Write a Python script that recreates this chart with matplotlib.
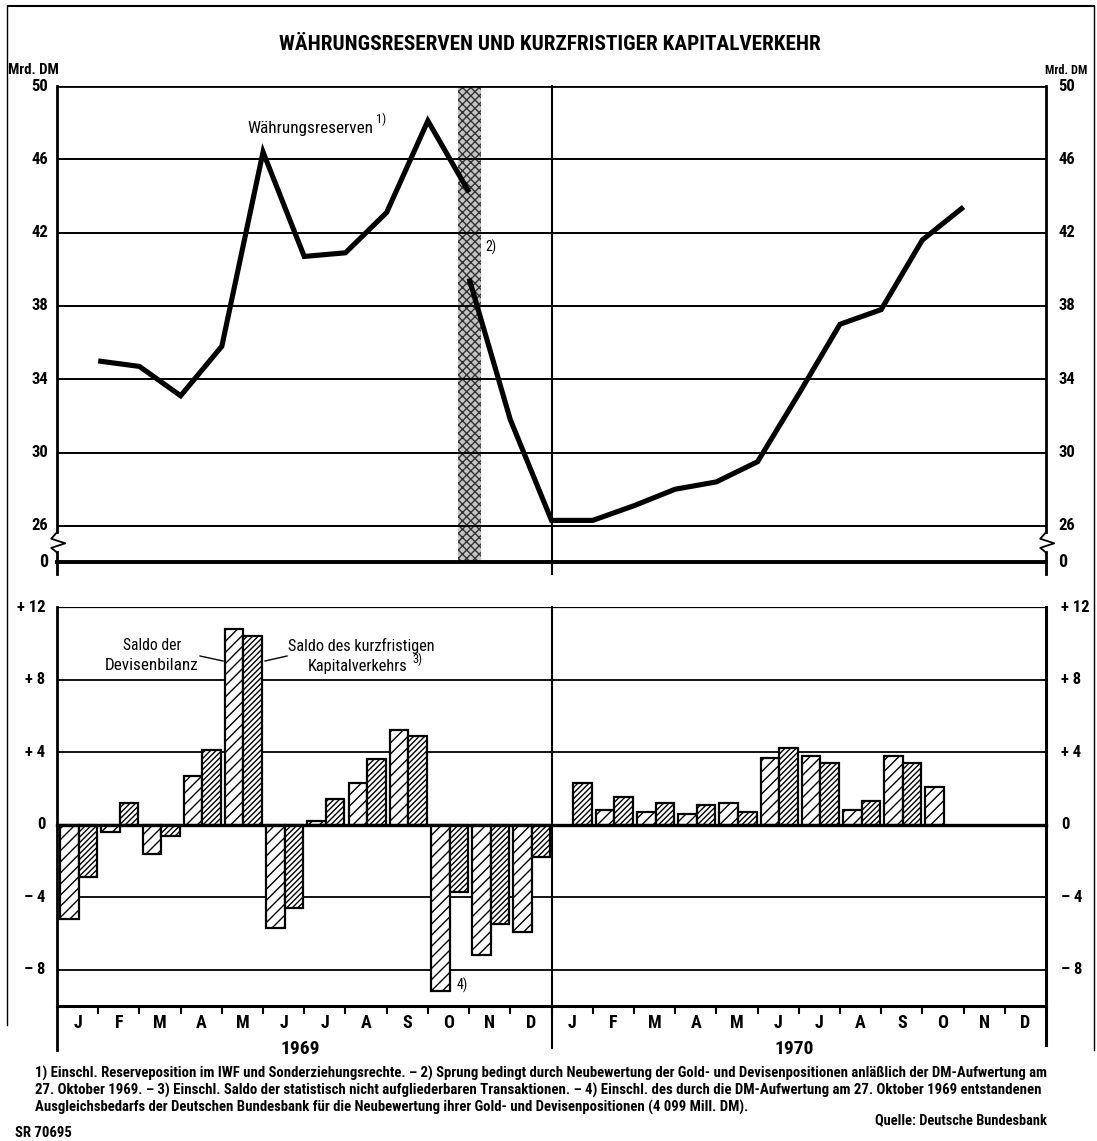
import numpy as np
import matplotlib.pyplot as plt
from matplotlib import font_manager as fm
from matplotlib.lines import Line2D

# ------------------------------------------------------------------------
MONTHS = ["J", "F", "M", "A", "M", "J", "J", "A", "S", "O", "N", "D"] * 2
YEARS = ["1969", "1970"]

# Währungsreserven (Mrd. DM), month-end values
# Jan 1969 .. Oct 1969 (before revaluation)
reserve_before = [35.0, 34.7, 33.1, 35.8, 46.4, 40.7, 40.9, 43.1, 48.1, 44.2]
# Oct 1969 (after revaluation) .. Oct 1970
reserve_after = [39.5, 31.8, 26.3, 26.3, 27.1, 28.0, 28.4, 29.5, 33.2,
                 37.0, 37.8, 41.6, 43.4]

# Saldo der Devisenbilanz / Saldo des kurzfristigen Kapitalverkehrs
devisen = [-5.2, -0.4, -1.6, 2.7, 10.8, -5.7, 0.2, 2.3, 5.2, -9.2, -7.2, -5.9,
           np.nan, 0.8, 0.7, 0.6, 1.2, 3.7, 3.8, 0.8, 3.8, 2.1, np.nan, np.nan]
kapital = [-2.9, 1.2, -0.6, 4.1, 10.4, -4.6, 1.4, 3.6, 4.9, -3.7, -5.5, -1.8,
           2.3, 1.5, 1.2, 1.1, 0.7, 4.2, 3.4, 1.3, 3.4, np.nan, np.nan, np.nan]

top_ticks = [26, 30, 34, 38, 42, 46, 50]
bot_ticks = [12, 8, 4, 0, -4, -8]
bot_labels = ["+ 12", "+ 8", "+ 4", "0", "– 4", "– 8"]

FOOTNOTES = [
    "1) Einschl. Reserveposition im IWF und Sonderziehungsrechte. – 2) Sprung bedingt durch Neubewertung der Gold- und Devisenpositionen anläßlich der DM-Aufwertung am",
    "27. Oktober 1969. – 3) Einschl. Saldo der statistisch nicht aufgliederbaren Transaktionen. – 4) Einschl. des durch die DM-Aufwertung am 27. Oktober 1969 entstandenen",
    "Ausgleichsbedarfs der Deutschen Bundesbank für die Neubewertung ihrer Gold- und Devisenpositionen (4 099 Mill. DM).",
]
# ------------------------------------------------------------------------


def pick_font():
    ents = fm.fontManager.ttflist
    names = {f.name for f in ents}
    for n in ["Liberation Sans Narrow", "Roboto Condensed",
              "DejaVu Sans Condensed", "Open Sans Condensed"]:
        if n in names:
            return n, "normal"
    if any(f.name == "DejaVu Sans" and "condensed" in str(f.stretch)
           for f in ents):
        return "DejaVu Sans", "condensed"
    return "Liberation Sans", "normal"


FAMILY, STRETCH = pick_font()
plt.rcParams["font.family"] = [FAMILY, "DejaVu Sans"]
plt.rcParams["font.stretch"] = STRETCH
plt.rcParams["font.weight"] = "bold"
plt.rcParams["hatch.linewidth"] = 1.0

W, H = 1097, 1141
fig = plt.figure(figsize=(W / 100, H / 100), dpi=100)
to_fit = []  # (text, target width in px)


def box(l, t, r, b):
    return [l / W, 1 - b / H, (r - l) / W, (b - t) / H]


def T(px, py, s, fit=None, **kw):
    kw.setdefault("ha", "center")
    kw.setdefault("va", "center")
    t = fig.text(px / W, 1 - py / H, s, **kw)
    if fit:
        to_fit.append((t, fit))
    return t


def L(xs, ys, **kw):
    fig.add_artist(Line2D([x / W for x in xs], [1 - y / H for y in ys],
                          transform=fig.transFigure, color="k", **kw))


ZERO = 24.03  # broken axis: position of the "0" line in the upper panel

# ---------------- upper panel: Währungsreserven --------------------------
ax1 = fig.add_axes(box(57, 86, 1046, 562))
ax1.set_xlim(0, 24)
ax1.set_ylim(ZERO, 50)
ax1.axis("off")

for v in top_ticks[:-1]:
    ax1.axhline(v, color="k", lw=1.4, zorder=2)
ax1.axhline(50, color="k", lw=2.0, zorder=2)
ax1.plot([0, 24], [ZERO, ZERO], color="k", lw=2.8, zorder=3, clip_on=False)

# revaluation band (27 Oct 1969)
ax1.axvspan(9.74, 10.3, facecolor="#c4c4c4", edgecolor="#333333",
            hatch="xxxx", lw=0, zorder=1)

# axes with break symbols
for xa in (0, 24):
    ax1.plot([xa, xa], [50, 25.65], color="k", lw=2.0, clip_on=False, zorder=4)
    ax1.plot([xa, xa - 0.14, xa + 0.2, xa - 0.14, xa],
             [25.65, 25.3, 25.05, 24.8, 24.55],
             color="k", lw=1.3, clip_on=False, zorder=4)
    ax1.plot([xa, xa], [24.55, 23.4], color="k", lw=2.0, clip_on=False, zorder=4)
ax1.plot([12, 12], [50, 23.4], color="k", lw=1.5, clip_on=False, zorder=2)

x_before = np.arange(1, len(reserve_before) + 1)
x_after = np.arange(10, 10 + len(reserve_after))
for xs, ys in ((x_before, reserve_before), (x_after, reserve_after)):
    ax1.plot(xs, ys, color="k", lw=3.7, solid_joinstyle="miter",
             solid_capstyle="butt", zorder=6)

for v in top_ticks:
    ax1.text(-0.22, v, str(v), ha="right", va="center", fontsize=12)
    ax1.text(24.3, v, str(v), ha="left", va="center", fontsize=12)
ax1.text(-0.22, ZERO, "0", ha="right", va="center", fontsize=13)
ax1.text(24.3, ZERO, "0", ha="left", va="center", fontsize=13)

T(33, 70, "Mrd. DM", fit=51)
T(1066, 70, "Mrd. DM", fit=42)
T(310, 128, "Währungsreserven", fit=125, weight="normal")
T(381, 119, "1)", fontsize=9, weight="normal")
T(491, 247, "2)", fontsize=10, weight="normal")

# ---------------- lower panel: Salden ------------------------------------
ax2 = fig.add_axes(box(57, 607, 1046, 1006))
ax2.set_xlim(0, 24)
ax2.set_ylim(-10, 12)
for s in ax2.spines.values():
    s.set_visible(False)
ax2.set_yticks([])

for v in (8, 4, -4, -8):
    ax2.axhline(v, color="k", lw=1.3, zorder=1)
ax2.axhline(12, color="k", lw=1.6, zorder=1)
ax2.axhline(-10, color="k", lw=2.2, zorder=4, clip_on=False)

idx = np.arange(24)
ax2.bar(idx + 0.3, devisen, width=0.45, facecolor="white", edgecolor="k",
        linewidth=1.6, hatch="///", zorder=3)
ax2.bar(idx + 0.75, kapital, width=0.45, facecolor="white", edgecolor="k",
        linewidth=1.6, hatch="//////", zorder=3)
ax2.plot([0, 24], [0, 0], color="k", lw=2.4, zorder=4, clip_on=False)

ax2.plot([0, 0], [12, -12.45], color="k", lw=2.0, clip_on=False, zorder=4)
ax2.plot([24, 24], [12, -12.15], color="k", lw=2.2, clip_on=False, zorder=4)
ax2.plot([12, 12], [12, -12.3], color="k", lw=1.5, clip_on=False, zorder=4)

ax2.set_xticks(idx + 0.5, MONTHS)
ax2.set_xticks(np.arange(1, 24), minor=True)
ax2.tick_params(axis="x", which="major", length=0, pad=6, labelsize=13)
ax2.tick_params(axis="x", which="minor", length=6, width=1.5, direction="out")
for i, yr in enumerate(YEARS):
    ax2.text(5.9 + 12 * i, -0.107, yr, transform=ax2.get_xaxis_transform(),
             ha="center", va="center", fontsize=14)

for v, lab in zip(bot_ticks, bot_labels):
    ax2.text(-0.28, v, lab, ha="right", va="center", fontsize=12)
    ax2.text(24.36, v, lab, ha="left", va="center", fontsize=12)

T(152, 646, "Saldo der", fit=58, weight="normal")
T(152, 666, "Devisenbilanz", fit=93, weight="normal")
L([200, 223], [656, 661], lw=1.0)
T(361, 646, "Saldo des kurzfristigen", fit=147, weight="normal")
T(358, 666, "Kapitalverkehrs", fit=100, weight="normal")
T(417, 659, "3)", fontsize=9, weight="normal")
L([265, 287], [661, 656], lw=1.0)
T(462, 985, "4)", fontsize=10, weight="normal")

# ---------------- title, notes, frame ------------------------------------
T(550, 45, "WÄHRUNGSRESERVEN UND KURZFRISTIGER KAPITALVERKEHR", fit=539)

notes = [T(35, 1073 + 17 * k, line, ha="left") for k, line in enumerate(FOOTNOTES)]
to_fit.append((notes[0], 1012))
to_fit.append((notes[1], 1012))
T(1047, 1120, "Quelle: Deutsche Bundesbank", fit=172, ha="right")
T(15, 1133, "SR 70695", fit=57, ha="left")

L([8, 1094], [6, 6], lw=1.5)
L([7, 7], [6, 1025], lw=1.0)
L([1094, 1094], [6, 1050], lw=1.0)

# scale the texts to the widths they have in the original
renderer = fig.canvas.get_renderer()
for t, width in to_fit:
    bb = t.get_window_extent(renderer)
    t.set_fontsize(t.get_fontsize() * width / bb.width)
notes[2].set_fontsize(notes[0].get_fontsize())

fig.savefig("out.png", dpi=100, facecolor="white")
